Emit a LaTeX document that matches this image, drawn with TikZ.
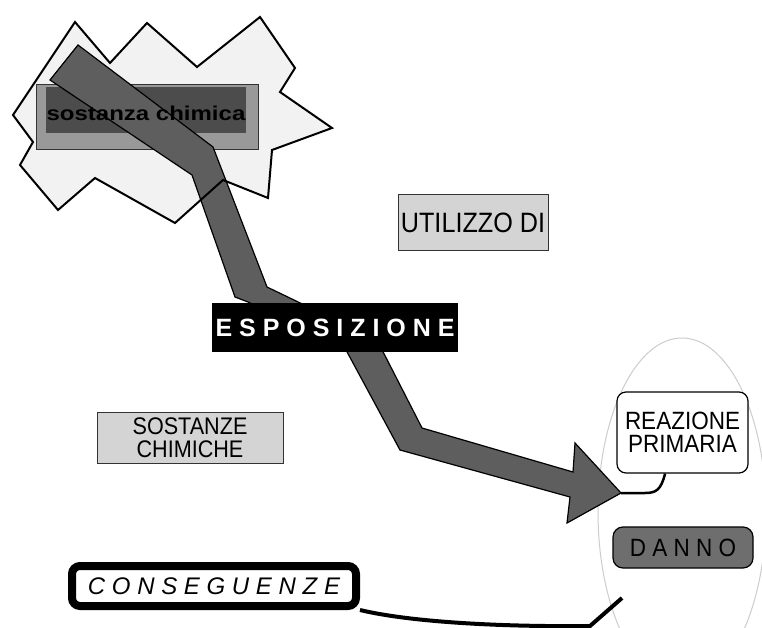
\documentclass[tikz,border=0pt]{standalone}
\usepackage{fontspec}
\setmainfont{Liberation Sans}
\newfontfamily\chemfont[FakeStretch=1.2]{Liberation Sans}
\newfontfamily\capsfont[FakeStretch=0.9]{Liberation Sans}

\definecolor{cloudgrey}{gray}{0.95}
\definecolor{chemgrey}{gray}{0.6}
\definecolor{chemdark}{gray}{0.3}
\definecolor{arrowgrey}{gray}{0.37}
\definecolor{boxgrey}{gray}{0.83}
\definecolor{dannogrey}{gray}{0.43}
\definecolor{ringgrey}{gray}{0.8}

\pgfdeclarelayer{back}
\pgfdeclarelayer{mid}
\pgfsetlayers{back,mid,main}

\newcommand{\boxLabelled}[5][]{
	\path (#2,#3) node[#1](#4){#5};
}
\newcommand{\link}[3][]{
	\draw[#1] (#2) -- (#3);
}
\newcommand{\cloudShape}{(13,115) -- (75,22) -- (110,63) -- (147,23) -- (197,67) -- (260,17) -- (295,68) -- (280,92) -- (332,128) -- (272,150) -- (268,198) -- (223,180) -- (175,223) -- (95,178) -- (58,210) -- (20,165) -- (33,142) -- cycle}

\tikzset{
	chembox/.style={minimum width=196pt, minimum height=45pt, inner sep=0pt, font=\chemfont\bfseries\fontsize{20}{20}\selectfont},
	greybox/.style={draw=black!80, fill=boxgrey, line width=1pt, inner sep=0pt, align=center, font=\capsfont\fontsize{24}{22.5}\selectfont},
	blackbox/.style={fill=black, text=white, inner sep=0pt, font=\bfseries\fontsize{25}{25}\selectfont},
	roundbox/.style={draw, line width=1.2pt, rounded corners=9pt, inner sep=0pt, align=center, font=\capsfont\fontsize{25}{23}\selectfont},
	heavybox/.style={draw, fill=white, line width=8pt, rounded corners=8pt, inner sep=0pt, font=\itshape\fontsize{24}{24}\selectfont},
}

\begin{document}
\begin{tikzpicture}[x=1pt, y=-1pt]
	\useasboundingbox (0,0) rectangle (762,628);

	\boxLabelled[chembox]{146}{113}{chem}{sostanza chimica};
	\boxLabelled[greybox, minimum width=150pt, minimum height=55pt, font=\capsfont\fontsize{28}{28}\selectfont]{473}{222.5}{use}{UTILIZZO DI};
	\boxLabelled[greybox, minimum width=186pt, minimum height=51pt]{190}{437.5}{subst}{SOSTANZE\\CHIMICHE};
	\boxLabelled[blackbox, minimum width=246pt, minimum height=49pt]{335}{327.5}{expo}{E S P O S I Z I O N E};
	\boxLabelled[roundbox, fill=white, minimum width=131pt, minimum height=81pt]{682.5}{432.5}{reaz}{REAZIONE\\PRIMARIA};
	\boxLabelled[roundbox, fill=dannogrey, rounded corners=10pt, minimum width=140pt, minimum height=41pt]{683}{547.5}{damage}{D A N N O};
	\boxLabelled[heavybox, minimum width=284pt, minimum height=40pt]{214}{586}{cons}{C O N S E G U E N Z E};

	\coordinate (tip) at (621,493);
	\coordinate (ring) at (622,598);

	\begin{pgfonlayer}{back}
		\draw[ringgrey, line width=1pt] (682,512) ellipse [x radius=84, y radius=174];
		\fill[cloudgrey] \cloudShape;
		\filldraw[fill=chemgrey, draw=black!80, line width=1pt] ([shift={(-10,-6)}]chem.north west) rectangle ([shift={(13,14)}]chem.south east);
		\fill[chemdark] ([yshift=3]chem.north west) rectangle ([yshift=3]chem.south east);
	\end{pgfonlayer}

	\begin{pgfonlayer}{mid}
		\filldraw[fill=arrowgrey, draw=black, line width=1.2pt, line join=miter] (50,80) -- (78,45) -- (213,147) -- (267,287) -- (377,340) -- (422,428) -- (573,472) -- (575,443) -- (tip) -- (567,523) -- (570,497) -- (400,450) -- (346,350) -- (248,302) -- (235,297) -- (192,175) -- cycle;
		\draw[line width=2pt, line join=miter] \cloudShape;
	\end{pgfonlayer}

	\draw[line width=2.5pt] (reaz.247) .. controls (661,490) and (656,493) .. (645,493) -- (tip);
	\draw[line width=4pt] (cons.south east) .. controls (410,622) and (500,627) .. (590,626) -- (ring);
\end{tikzpicture}
\end{document}
